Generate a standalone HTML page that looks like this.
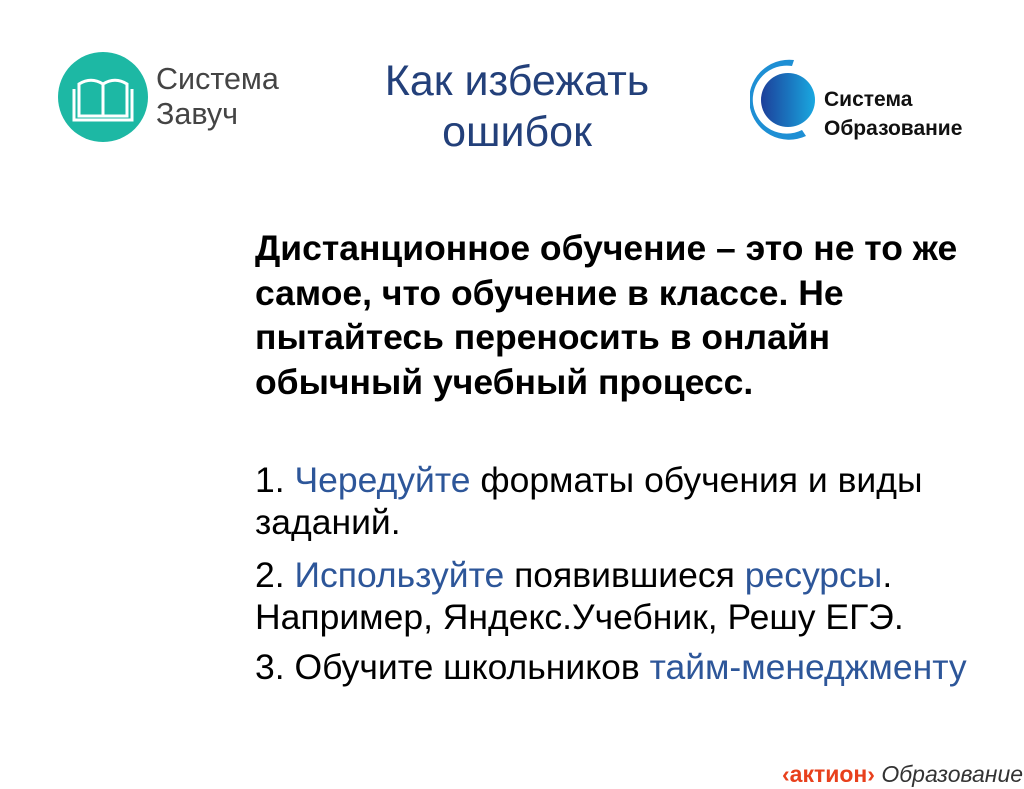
<!DOCTYPE html>
<html><head><meta charset="utf-8"><style>
body{margin:0;width:1024px;height:789px;background:#fff;position:relative;overflow:hidden;font-family:"Liberation Sans","Noto Sans CJK SC",sans-serif}
.a{position:absolute;white-space:nowrap}
.title{left:317px;width:400px;text-align:center;top:56px;font-size:43px;line-height:51px;color:#23407a}
.bold{left:255px;top:226px;font-size:35.5px;font-weight:bold;line-height:44.5px;color:#000}
.li{left:255px;font-size:35.5px;line-height:42px;color:#000}
.b{color:#2d5699}
</style></head><body>
<svg class="a" style="left:57px;top:51px" width="92" height="92"><circle cx="46" cy="46" r="45" fill="#1db8a4"/>
<g fill="none" stroke="#fff" stroke-width="3"><path d="M22 33v32h24v-32c-8-5-16-5-24 0z"/><path d="M70 33v32h-24v-32c8-5 16-5 24 0z"/><path d="M17 38v31h58v-31"/></g></svg>
<div class="a" style="left:156px;top:62px;font-size:30.5px;line-height:35px;color:#444">Система<br>Завуч</div>
<div class="a title">Как избежать<br>ошибок</div>
<svg class="a" style="left:750px;top:58px" width="70" height="82">
<defs><linearGradient id="g" x1="0" x2="1"><stop offset="0" stop-color="#1c3f9a"/><stop offset="1" stop-color="#19a8e0"/></linearGradient></defs>
<path d="M44 2 A40 40 0 1 0 56 78 L52 72 A34 34 0 1 1 42 8 Z" fill="#1e8fd4"/>
<circle cx="38" cy="42" r="27" fill="url(#g)"/></svg>
<div class="a" style="left:824px;top:85px;font-size:21px;font-weight:bold;line-height:29px;color:#111">Система<br>Образование</div>
<div class="a bold">Дистанционное обучение – это не то же<br>самое, что обучение в классе. Не<br>пытайтесь переносить в онлайн<br>обычный учебный процесс.</div>
<div class="a li" style="top:459px">1. <span class="b">Чередуйте</span> форматы обучения и виды<br>заданий.</div>
<div class="a li" style="top:554px">2. <span class="b">Используйте</span> появившиеся <span class="b">ресурсы</span>.<br>Например, Яндекс.Учебник, Решу ЕГЭ.</div>
<div class="a li" style="top:646px">3. Обучите школьников <span class="b">тайм-менеджменту</span></div>
<div class="a" style="left:782px;top:761px;font-size:23px;line-height:26px"><span style="color:#e8401c;font-weight:bold">‹актион›</span> <i style="color:#333">Образование</i></div>
</body></html>
